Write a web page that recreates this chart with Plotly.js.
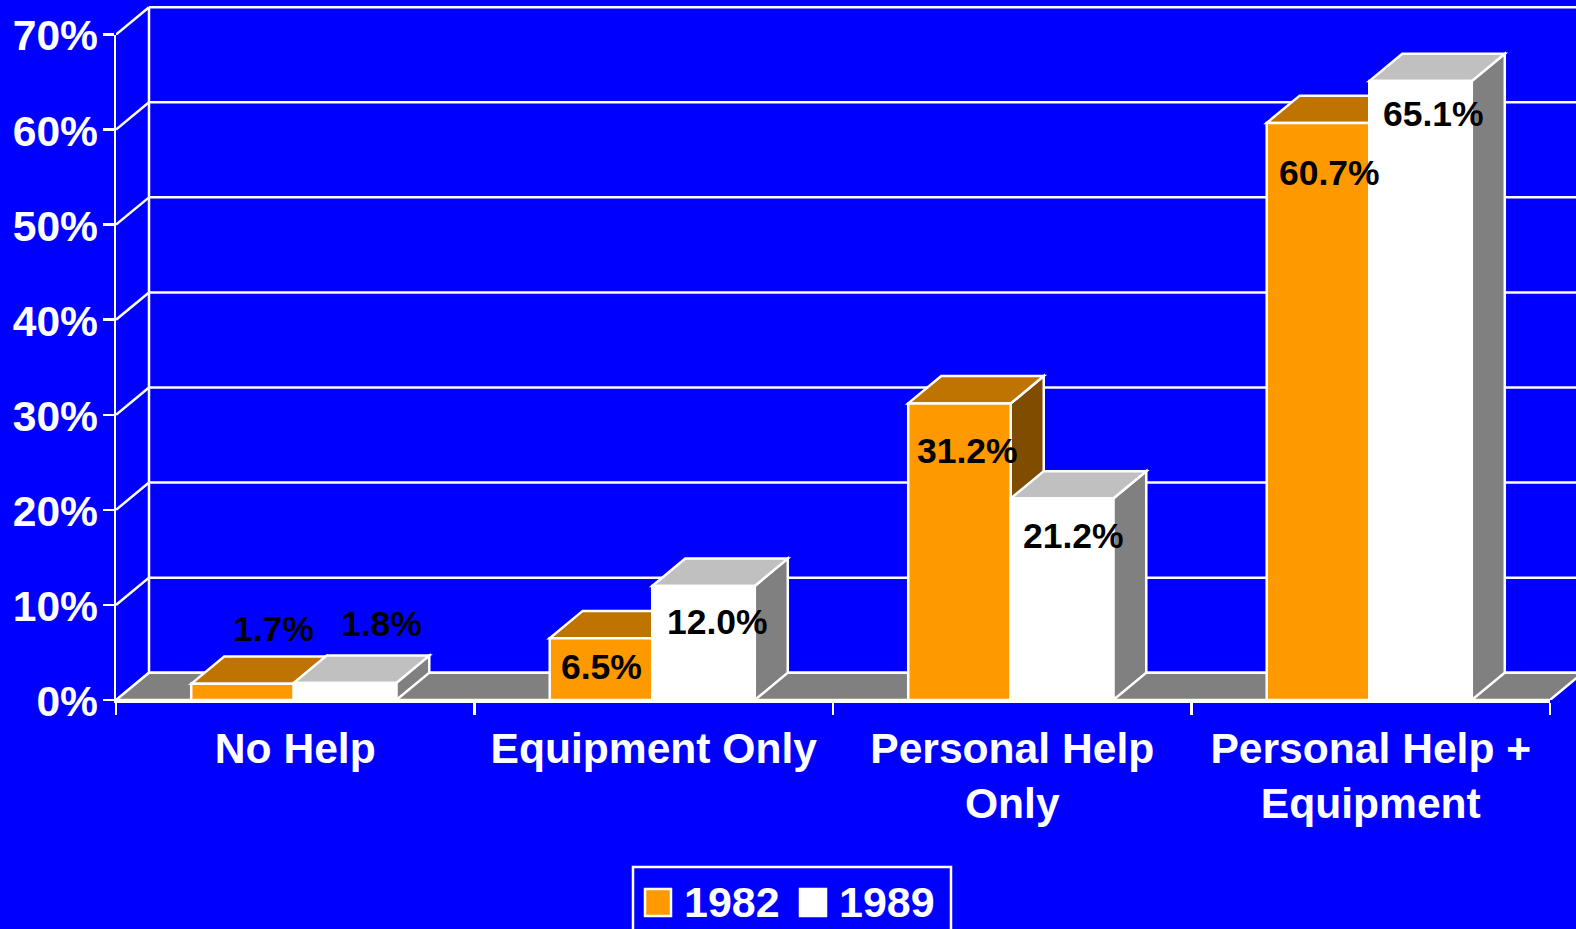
<!DOCTYPE html>
<html>
<head>
<meta charset="utf-8">
<script src="https://cdn.plot.ly/plotly-3.0.1.min.js"></script>
<style>html,body{margin:0;padding:0;background:#0000FF;overflow:hidden}#c{width:1576px;height:929px}</style>
</head>
<body>
<div id="c"></div>
<script>
const categories = ['No Help', 'Equipment Only', 'Personal Help<br>Only', 'Personal Help +<br>Equipment'];
const categoryCenters = [0.5, 1.5, 2.5, 3.5];
const seriesNames = ['1982', '1989'];
const values1982 = [1.7, 6.5, 31.2, 60.7];
const values1989 = [1.8, 12.0, 21.2, 65.1];
const yTicks = [0, 10, 20, 30, 40, 50, 60, 70];
const yTickLabels = ['0%', '10%', '20%', '30%', '40%', '50%', '60%', '70%'];
const xTicks = [0, 1, 2, 3, 4];

// label nudges in px from the bar's top-centre
const nudge1982 = [[30, 55], [-1, -29], [7, -48], [10, -50]];
const nudge1989 = [[35, 59], [12, -36], [10, -38], [11, -33]];

const FONT = 'Liberation Sans, Arial, sans-serif';
const BLUE = '#0000FF', ORANGE = '#FF9900', WHITE = '#FFFFFF';
const ORANGE_TOP = '#BF7300', ORANGE_SIDE = '#804D00', WHITE_TOP = '#C0C0C0', WHITE_SIDE = '#808080';

// plot frame in px
const L = 116, PW = 1460, PH = 700, BOTTOM = 229;
const pxPerCat = 358.5, pxPerPct = 9.507;
const xMax = PW / pxPerCat, yMax = PH / pxPerPct;
const DX = 33 / pxPerCat, DY = 27.3 / pxPerPct;
const BARGAP = 0.428, BW = (1 - BARGAP) / 2;
const BAR_SHIFT = -1.5 / pxPerCat;
const barCenters = categoryCenters.map(c => c + BAR_SHIFT);

const line = {color: WHITE, width: 2.5};
function poly(pts, fill) {
  return {type: 'path', xref: 'x', yref: 'y', layer: 'below',
    path: 'M' + pts.map(p => p[0] + ',' + p[1]).join('L') + 'Z',
    fillcolor: fill, line: line};
}
function seg(x0, y0, x1, y1) {
  return {type: 'line', xref: 'x', yref: 'y', layer: 'below', x0, y0, x1, y1, line: line};
}

const shapes = [];
// back wall + gridlines + connecting diagonals
yTicks.forEach(v => {
  shapes.push(seg(DX, v + DY, xMax, v + DY));
  shapes.push(seg(0, v, DX, v + DY));
});
shapes.push(seg(DX, DY, DX, 70 + DY));
// floor
shapes.push(poly([[0, 0], [DX, DY], [xTicks[4] + DX, DY], [xTicks[4], 0]], WHITE_SIDE));

// 3D faces of the bars
function faces(x0, x1, v, top, side) {
  shapes.push(poly([[x1, 0], [x1 + DX, DY], [x1 + DX, v + DY], [x1, v]], side));
  shapes.push(poly([[x0, v], [x0 + DX, v + DY], [x1 + DX, v + DY], [x1, v]], top));
}
barCenters.forEach((c, i) => {
  faces(c - BW, c, values1982[i], ORANGE_TOP, ORANGE_SIDE);
  faces(c, c + BW, values1989[i], WHITE_TOP, WHITE_SIDE);
});

// legend box and swatches
function px(x) { return (x - L) / PW; }
function py(y) { return (PH - y) / PH; }
const legendFill = [ORANGE, WHITE];
const legendSwatchX = [645, 800];
const legendTextX = [683, 838];
shapes.push({type: 'rect', xref: 'paper', yref: 'paper', layer: 'above',
  x0: px(633), x1: px(951), y0: py(945), y1: py(867), fillcolor: 'rgba(0,0,0,0)', line: line});
legendSwatchX.forEach((x, i) => shapes.push({type: 'rect', xref: 'paper', yref: 'paper', layer: 'above',
  x0: px(x), x1: px(x + 26), y0: py(916), y1: py(889), fillcolor: legendFill[i], line: line}));

const annotations = [];
function addLabels(vals, offset, nudges) {
  vals.forEach((v, i) => annotations.push({
    x: categoryCenters[i] + offset, y: v, xref: 'x', yref: 'y',
    text: v.toFixed(1) + '%', showarrow: false, xanchor: 'center', yanchor: 'middle',
    xshift: nudges[i][0], yshift: nudges[i][1],
    font: {family: FONT, size: 35.5, color: '#000000', weight: 700}
  }));
}
addLabels(values1982, -BW / 2, nudge1982);
addLabels(values1989, BW / 2, nudge1989);
seriesNames.forEach((s, i) => annotations.push({
  x: px(legendTextX[i]), y: py(902), xref: 'paper', yref: 'paper', text: s, showarrow: false,
  xanchor: 'left', yanchor: 'middle', borderpad: 0,
  font: {family: FONT, size: 43, color: WHITE, weight: 700}
}));

const data = [
  {type: 'bar', name: seriesNames[0], x: barCenters, y: values1982,
   marker: {color: ORANGE, line: line}, hoverinfo: 'skip'},
  {type: 'bar', name: seriesNames[1], x: barCenters, y: values1989,
   marker: {color: WHITE, line: line}, hoverinfo: 'skip'},
  {type: 'scatter', mode: 'none', x: xTicks, y: yTicks.slice(0, 5), xaxis: 'x2', yaxis: 'y2', hoverinfo: 'skip', showlegend: false}
];

const axFont = {family: FONT, size: 42.6, color: WHITE, weight: 700};
const layout = {
  width: 1576, height: 929,
  margin: {l: L, r: 0, t: 0, b: BOTTOM, pad: 0},
  paper_bgcolor: BLUE, plot_bgcolor: 'rgba(0,0,0,0)',
  barmode: 'group', bargap: BARGAP, bargroupgap: 0,
  showlegend: false, hovermode: false,
  xaxis: {range: [0, xMax], domain: [0, 1], anchor: 'y', tickmode: 'array', tickvals: categoryCenters,
    ticktext: categories, ticks: '', showgrid: false, zeroline: false, showline: false,
    tickfont: axFont, tickangle: 0, ticklabelstandoff: 19, automargin: false},
  yaxis: {range: [0, yMax], domain: [0, 1], anchor: 'x', showgrid: false, zeroline: false, showline: false,
    showticklabels: false, ticks: ''},
  xaxis2: {range: [0, 4], domain: [0, 4 * pxPerCat / PW], anchor: 'y2', tickmode: 'array', tickvals: xTicks,
    showticklabels: false, ticks: 'outside', ticklen: 12, tickwidth: 2.5, tickcolor: WHITE,
    showline: true, linecolor: WHITE, linewidth: 2.5, showgrid: false, zeroline: false},
  yaxis2: {range: [0, 70], domain: [0, 70 * pxPerPct / PH], anchor: 'x2', tickmode: 'array', tickvals: yTicks,
    ticktext: yTickLabels, ticks: 'outside', ticklen: 11, tickwidth: 2.5, tickcolor: WHITE,
    showline: true, linecolor: WHITE, linewidth: 2.5, showgrid: false, zeroline: false,
    tickfont: axFont, ticklabelstandoff: -4, ticklabelshift: 1, automargin: false},
  shapes, annotations
};
Plotly.newPlot('c', data, layout, {staticPlot: true, displayModeBar: false});
</script>
</body>
</html>
